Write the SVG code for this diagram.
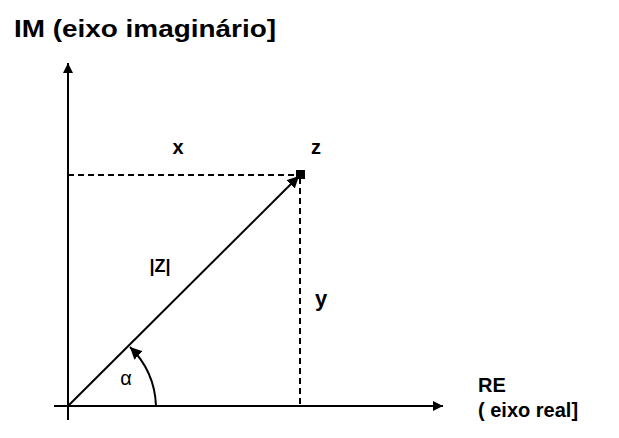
<svg xmlns="http://www.w3.org/2000/svg" width="619" height="438" viewBox="0 0 619 438">
<style>
.ax{stroke:#000;stroke-width:2;fill:none}
.ds{stroke:#000;stroke-width:2;stroke-dasharray:6 4;fill:none}
.lbl{font-family:"Liberation Sans",Arial,sans-serif;fill:#000}
.b{font-weight:bold}
</style>
<defs>
<marker id="ah" viewBox="0 0 10 10" refX="10" refY="5" markerWidth="5" markerHeight="5" orient="auto" markerUnits="strokeWidth">
<path d="M0,0 L10,5 L0,10 Z" fill="#000"/>
</marker>
<marker id="ahs" viewBox="0 0 10 10" refX="10" refY="5" markerWidth="6" markerHeight="6" orient="auto" markerUnits="strokeWidth">
<path d="M0,0 L10,5 L0,10 Z" fill="#000"/>
</marker>
</defs>
<rect width="619" height="438" fill="#fff"/>
<g id="connectors">
<line class="ax" x1="68" y1="420" x2="68" y2="63" marker-end="url(#ah)"/>
<line class="ax" x1="54" y1="406" x2="443" y2="406" marker-end="url(#ah)"/>
<line class="ds" x1="68" y1="175" x2="296" y2="175"/>
<line class="ds" x1="300" y1="178" x2="300" y2="406"/>
<line class="ax" x1="69" y1="405" x2="299" y2="176" marker-end="url(#ahs)"/>
<path class="ax" d="M156,406 A87,87 0 0 0 130,347" marker-end="url(#ahs)"/>
</g>
<g id="point-z">
<rect x="296" y="170" width="9" height="9" fill="#000"/>
<text class="lbl b" x="316" y="154" font-size="20" text-anchor="middle">z</text>
</g>
<g id="label-x"><text class="lbl b" x="178" y="154" font-size="20" text-anchor="middle">x</text></g>
<g id="label-y"><text class="lbl b" x="321" y="306" font-size="22" text-anchor="middle">y</text></g>
<g id="label-modz"><text class="lbl b" x="160" y="272" font-size="18" text-anchor="middle">|Z|</text></g>
<g id="label-alpha"><text class="lbl" x="126" y="385" font-size="20" text-anchor="middle">α</text></g>
<g id="title-im"><text class="lbl b" x="14" y="37" font-size="23" textLength="262" lengthAdjust="spacingAndGlyphs">IM (eixo imaginário]</text></g>
<g id="label-re">
<text class="lbl b" x="478" y="392" font-size="20">RE</text>
<text class="lbl b" x="478" y="417" font-size="20">( eixo real]</text>
</g>
</svg>
